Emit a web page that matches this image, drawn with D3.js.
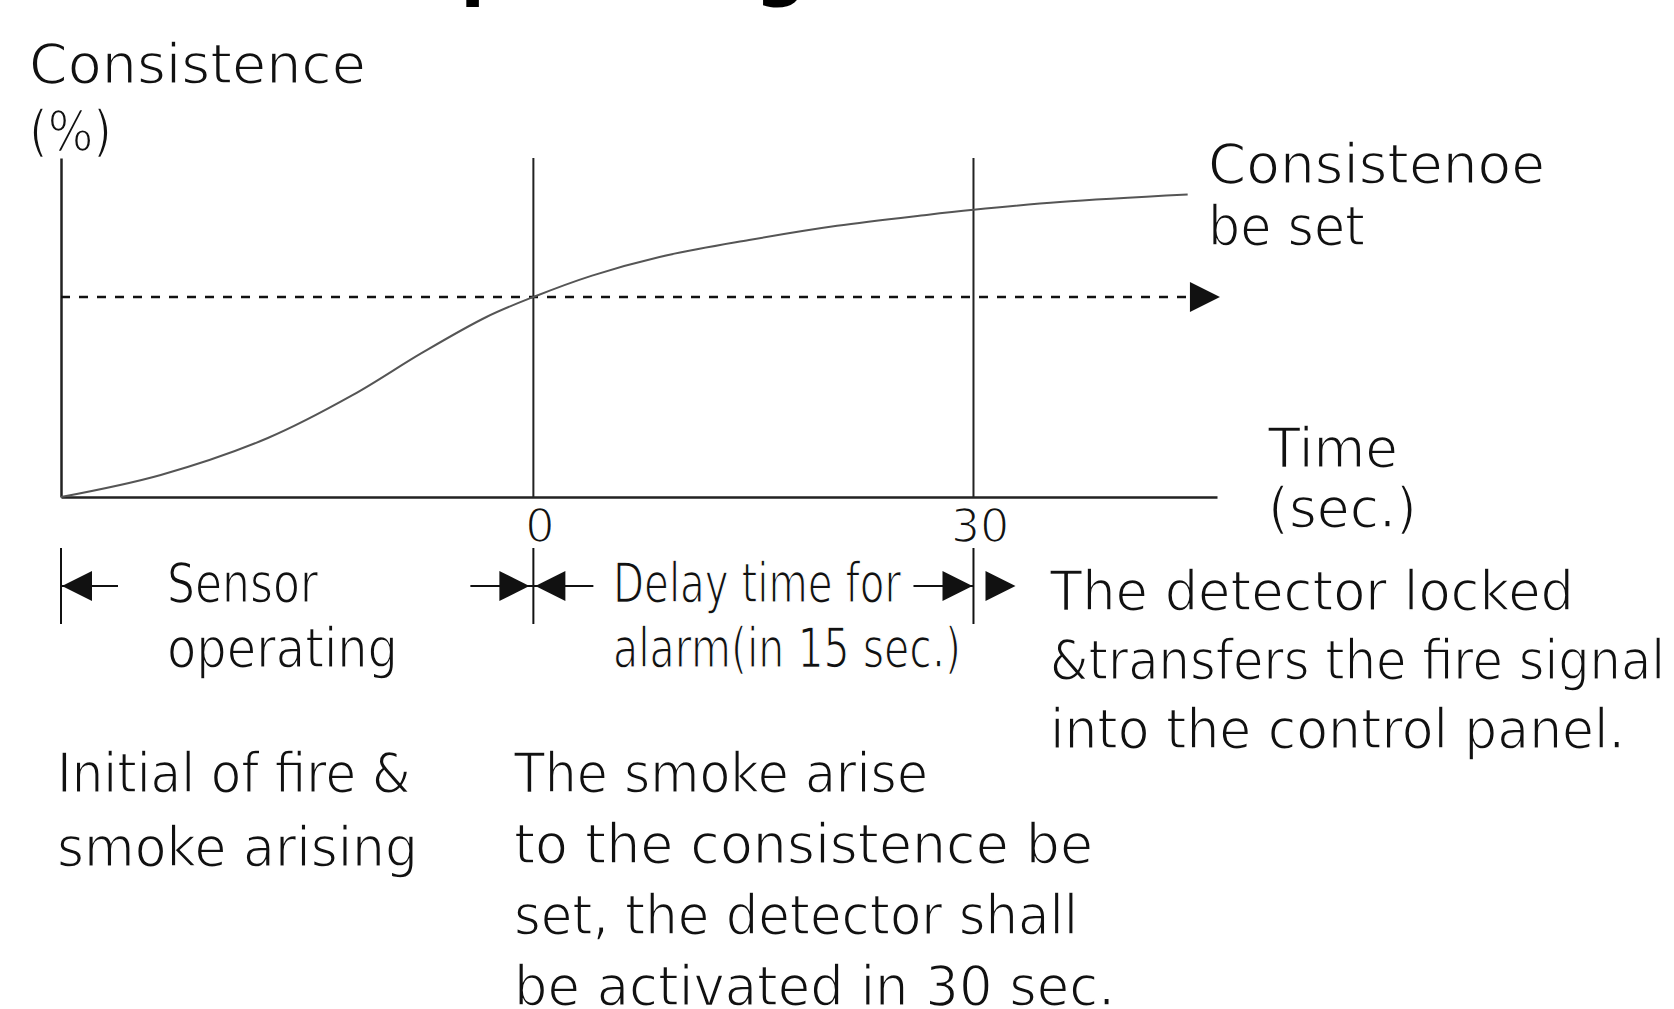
<!DOCTYPE html>
<html>
<head>
<meta charset="utf-8">
<script src="https://cdn.jsdelivr.net/npm/d3@7"></script>
<style>
    body { margin: 0; background: #fff; }
    text { font-family: 'DejaVu Sans', sans-serif; fill: #111; }
    .thin { stroke: #fff; stroke-width: 1.6px; paint-order: fill; }
</style>
</head>
<body>
<div id="main"></div>
<script>
// consistence curve (time in sec, consistence in %)
const curveTime        = [-32.2, -25.4, -18.1, -12.3, -7.6, -3.2, 0, 4.0, 8.6, 14.7, 20.7, 26.8, 30, 35.9, 44.6];
const curveConsistence = [0, 6.5, 17.4, 30.1, 42.5, 53.1, 59.0, 65.3, 70.8, 75.8, 80.0, 83.2, 84.7, 87.0, 89.2];
const timeDomain = [-32.2, 46.6];
const consistenceDomain = [0, 100];
const setLevel = 59;
const setLevelEnd = 46.8;
const tickTimes = [0, 30];

const yAxisLabel = ['Consistence', '(%)'];
const xAxisLabel = ['Time', '(sec.)'];
const curveLabel = ['Consistenoe', 'be set'];
const sensorLabel = ['Sensor', 'operating'];
const delayLabel = ['Delay time for', 'alarm(in 15 sec.)'];
const lockedLabel = ['The detector locked', '&transfers the fire signal', 'into the control panel.'];
const initialLabel = ['Initial of fire &', 'smoke arising'];
const smokeLabel = ['The smoke arise', 'to the consistence be', 'set, the detector shall', 'be activated in 30 sec.'];

const width = 1674, height = 1009;
const fontSize = 55;

const svg = d3.select('#main').append('svg').attr('width', width).attr('height', height);

const xScale = d3.scaleLinear().domain(timeDomain).range([61, 1217]);
const yScale = d3.scaleLinear().domain(consistenceDomain).range([497, 158]);

// a block of text lines, each stretched to the width it has in the picture
function drawLines(lines, x, y0, lineGap, widths) {
    lines.forEach((line, i) => {
        svg.append('text')
            .attr('class', 'thin')
            .attr('x', x)
            .attr('y', y0 + i * lineGap)
            .attr('textLength', widths[i])
            .attr('lengthAdjust', 'spacingAndGlyphs')
            .style('font-size', fontSize + 'px')
            .text(line);
    });
}

function arrowHead(g, tipX, y, dir) {
    g.append('path')
        .attr('d', `M${tipX},${y}L${tipX - dir * 30},${y - 15}L${tipX - dir * 30},${y + 15}Z`)
        .style('fill', '#111');
}

function drawTitle() {
    // title is cut off by the top edge, only descenders show
    svg.append('text')
        .attr('x', 399)
        .attr('y', -8)
        .style('font-size', '72px')
        .style('font-weight', 'bold')
        .style('fill', '#000')
        .text('Operating Scheme');
}

function drawChart() {
    // axes
    svg.append('g')
        .attr('transform', `translate(${xScale(timeDomain[0])},0)`)
        .call(d3.axisLeft(yScale).tickValues([]).tickSizeOuter(0))
        .select('.domain').style('stroke', '#222').style('stroke-width', 2.5);

    const xAxis = svg.append('g')
        .attr('transform', `translate(0,${yScale(0)})`)
        .call(d3.axisBottom(xScale).tickValues(tickTimes).tickSize(0).tickSizeOuter(0));
    xAxis.select('.domain').style('stroke', '#222').style('stroke-width', 2.5);
    xAxis.selectAll('text')
        .attr('class', 'thin')
        .attr('dy', null)
        .attr('y', 45)
        .attr('dx', 6)
        .style('font-size', '46px')
        .style('font-family', "'DejaVu Sans', sans-serif")
        .style('fill', '#111');

    // vertical lines at 0 and 30 sec
    svg.append('g').selectAll('line')
        .data(tickTimes)
        .enter()
            .append('line')
                .attr('x1', d => xScale(d))
                .attr('x2', d => xScale(d))
                .attr('y1', yScale(consistenceDomain[1]))
                .attr('y2', yScale(0))
                .style('stroke', '#222')
                .style('stroke-width', 2);

    // set level, dashed with arrow
    const setY = yScale(setLevel);
    const tip = xScale(setLevelEnd);
    svg.append('line')
        .attr('x1', xScale(timeDomain[0]))
        .attr('x2', tip - 30)
        .attr('y1', setY)
        .attr('y2', setY)
        .style('stroke', '#111')
        .style('stroke-width', 2.5)
        .style('stroke-dasharray', '9,9');
    arrowHead(svg, tip, setY, 1);

    // curve
    const points = curveTime.map((t, i) => [t, curveConsistence[i]]);
    svg.append('path')
        .datum(points)
        .attr('d', d3.line().x(d => xScale(d[0])).y(d => yScale(d[1])).curve(d3.curveCatmullRom.alpha(0.5)))
        .style('fill', 'none')
        .style('stroke', '#555')
        .style('stroke-width', 2);
}

function drawTimeline() {
    const g = svg.append('g').style('stroke', '#111').style('stroke-width', 2);
    const rowY = 586;
    const bounds = [timeDomain[0], ...tickTimes];

    bounds.forEach(t => {
        g.append('line').attr('x1', xScale(t)).attr('x2', xScale(t)).attr('y1', 548).attr('y2', 624);
    });

    const x0 = xScale(timeDomain[0]), xa = xScale(0), xb = xScale(30);
    // start of sensor period
    g.append('line').attr('x1', x0).attr('x2', x0 + 57).attr('y1', rowY).attr('y2', rowY);
    arrowHead(g, x0 + 1, rowY, -1);
    // 0 sec
    g.append('line').attr('x1', xa - 63).attr('x2', xa + 60).attr('y1', rowY).attr('y2', rowY);
    arrowHead(g, xa - 4, rowY, 1);
    arrowHead(g, xa + 2, rowY, -1);
    // 30 sec
    g.append('line').attr('x1', xb - 60).attr('x2', xb).attr('y1', rowY).attr('y2', rowY);
    arrowHead(g, xb - 1, rowY, 1);
    arrowHead(g, xb + 42, rowY, 1);
    g.selectAll('path').style('stroke', 'none');
}

function drawLabels() {
    drawLines(yAxisLabel, 29, 83, 67, [337, 83]);
    drawLines(curveLabel, 1208, 183, 62, [337, 157]);
    drawLines(xAxisLabel, 1268, 467, 60, [130, 149]);
    drawLines(sensorLabel, 167, 602, 65, [151, 231]);
    drawLines(delayLabel, 613, 602, 65, [288, 348]);
    drawLines(lockedLabel, 1050, 610, 69, [524, 615, 575]);
    drawLines(initialLabel, 57, 792, 74, [354, 361]);
    drawLines(smokeLabel, 514, 792, 71, [414, 579, 564, 601]);
}

drawTitle();
drawChart();
drawTimeline();
drawLabels();
</script>
</body>
</html>
